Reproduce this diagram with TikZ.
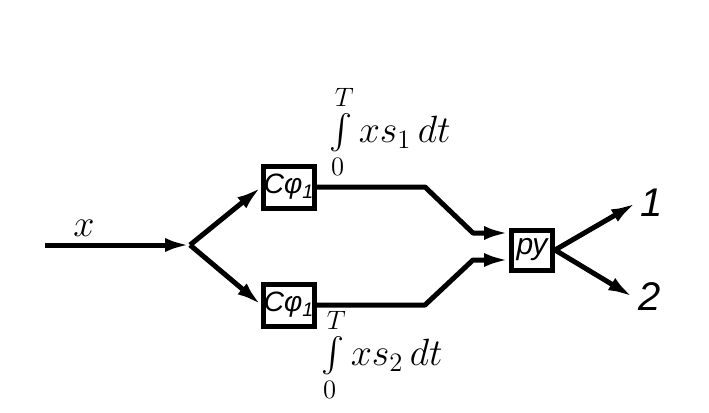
\RequirePackage{fix-cm}
\documentclass[tikz,border=0pt]{standalone}
\usepackage{amsmath}
\usepackage{fontspec}
\newfontfamily\cyr{Liberation Sans}
\usetikzlibrary{arrows.meta}

\begin{document}
\begin{tikzpicture}[x=0.5pt,y=-0.5pt,
    blk/.style={draw,line width=2.5pt,inner sep=0pt,minimum width=23.5pt,minimum height=21pt,
      font=\cyr\itshape\fontsize{14}{16}\selectfont},
    lbl/.style={font=\fontsize{19}{23}\selectfont},
    num/.style={font=\cyr\itshape\fontsize{20}{22}\selectfont},
    sig/.style={line width=2.5pt,line join=round,-{Latex[length=12.5pt,width=7pt]}}]
  \useasboundingbox (0,0) rectangle (709,413);
  \draw
    (45,245) coordinate (in)
    (190,245) coordinate (br)
    (289,187) node[blk] (sf1){Сφ\textsubscript{1}}
    (289,305) node[blk] (sf2){Сφ\textsubscript{1}}
    (532,250) node[blk,minimum width=20.5pt,minimum height=20pt,font=\cyr\itshape\fontsize{15}{17}\selectfont] (ru){ру}
    (425,187) coordinate (k1)
    (473,233) coordinate (k2)
    (425,305) coordinate (k3)
    (473,260) coordinate (k4)
    (636,203) coordinate (o1)
    (633,297) coordinate (o2)
    (84,228) node[lbl] (x){$x$}
    (652,203) node[num] (n1){1}
    (650,297) node[num] (n2){2}
    (390,132) node[lbl] (int1){$\int\limits_0^T xs_1\,dt$}
    (382,355) node[lbl] (int2){$\int\limits_0^T xs_2\,dt$};
  \begin{scope}[sig]
    \draw (in) to (br);
    \draw (br) to (sf1.west);
    \draw (br) to (sf2.west);
    \draw (sf1.east) -- (k1) -- (k2) -- ([yshift=8.5pt]ru.west);
    \draw (sf2.east) -- (k3) -- (k4) -- ([yshift=-5pt]ru.west);
    \draw (ru.east) to (o1);
    \draw (ru.east) to (o2);
  \end{scope}
\end{tikzpicture}
\end{document}
